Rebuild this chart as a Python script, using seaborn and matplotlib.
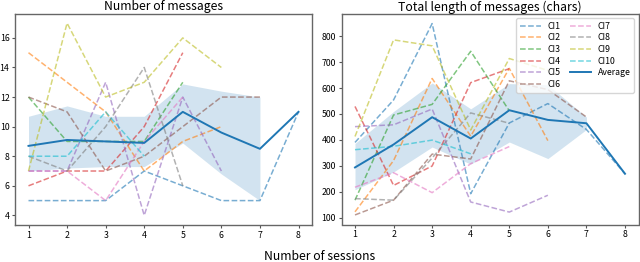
import numpy as np
import pandas as pd
import matplotlib
matplotlib.use("Agg")
import matplotlib.pyplot as plt
import seaborn as sns

plt.rcParams['font.family'] = ['Noto Sans CJK JP', 'DejaVu Sans']

names = ["CI1", "CI2", "CI3", "CI4", "CI5", "CI6", "CI7", "CI8", "CI9", "CI10"]

msg_counts = {
    "CI1": [5, 5, 5, 7, 6, 5, 5, 11],
    "CI2": [15, 13, 11, 7, 9, 10],
    "CI3": [12, 9, 9, 9, 13],
    "CI4": [6, 7, 7, 10, 15],
    "CI5": [7, 7, 13, 4, 12, 7],
    "CI6": [12, 11, 7, 8, 10, 12, 12],
    "CI7": [7, 7, 5, 9, 12],
    "CI8": [8, 7, 10, 14, 6],
    "CI9": [7, 17, 12, 13, 16, 14],
    "CI10": [8, 8, 11, 8],
}

msg_length = {
    "CI1": [390, 554, 849, 192, 465, 540, 440, 269],
    "CI2": [122, 320, 637, 414, 676, 397],
    "CI3": [167, 496, 537, 742, 512],
    "CI4": [529, 224, 299, 621, 675],
    "CI5": [451, 458, 519, 160, 121, 186],
    "CI6": [110, 167, 345, 326, 628, 594, 488],
    "CI7": [217, 273, 196, 308, 374],
    "CI8": [173, 167, 330, 504, 464],
    "CI9": [413, 786, 763, 438, 714, 668],
    "CI10": [362, 375, 399, 346],
}

titles = ["Number of messages", "Total length of messages (chars)"]
xlabel = "Number of sessions"


def to_long(d):
    rows = []
    for n in names:
        for i, v in enumerate(d[n]):
            rows.append({"CI": n, "session": i + 1, "value": v})
    return pd.DataFrame(rows)


fig = plt.figure(figsize=(6.4, 2.62), dpi=100)
ax1 = fig.add_axes([15 / 640, 1 - 225 / 262, 297 / 640, 211.5 / 262])
ax2 = fig.add_axes([341.5 / 640, 1 - 224.5 / 262, 297 / 640, 210.5 / 262])

palette = sns.color_palette("tab10", 10)

for ax, d, title in [(ax1, msg_counts, titles[0]), (ax2, msg_length, titles[1])]:
    df = to_long(d)
    for i, n in enumerate(names):
        sub = df[df.CI == n]
        sns.lineplot(data=sub, x="session", y="value", ax=ax, color=palette[i],
                     linestyle="--", alpha=0.6, linewidth=1.1, label=n, errorbar=None)
    sns.lineplot(data=df, x="session", y="value", ax=ax, color="#1f77b4",
                 linewidth=1.4, label="Average", errorbar=("ci", 95), seed=0,
                 err_kws={"alpha": 0.2, "linewidth": 0})
    ax.set_title(title, fontsize=8.8, pad=2)
    ax.set_xlabel("")
    ax.set_ylabel("")
    ax.set_xticks(range(1, 9))
    ax.tick_params(labelsize=6.3, length=2.5, width=0.8, color="#555555", pad=1.5)
    for s in ax.spines.values():
        s.set_color("#666666")
        s.set_linewidth(1.0)

ax1.get_legend().remove()
ax1.set_yticks([4, 6, 8, 10, 12, 14, 16])
ax2.set_yticks([100, 200, 300, 400, 500, 600, 700, 800])
ax2.legend(loc="upper right", ncol=2, fontsize=6.3, handlelength=2.4,
           columnspacing=1.0, labelspacing=0.3, borderpad=0.4,
           handletextpad=0.8, framealpha=0.8)

fig.text(0.5, 2 / 262, xlabel, ha="center", va="baseline", fontsize=8.8)

fig.savefig("out.png", dpi=100)
